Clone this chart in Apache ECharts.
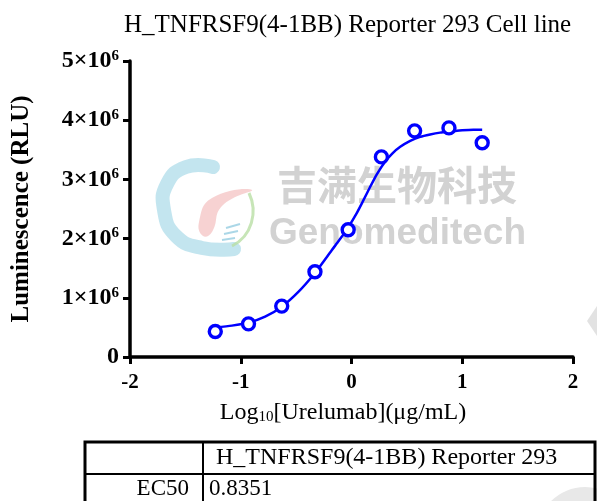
<!DOCTYPE html>
<html>
<head>
<meta charset="utf-8">
<script src="https://cdn.jsdelivr.net/npm/echarts@6/dist/echarts.min.js"></script>
<style>
  html, body { margin: 0; padding: 0; background: #fff; }
  #chart { width: 597px; height: 501px; }
</style>
</head>
<body>
<div id="chart"></div>
<script>
// measured points (log10 dose, RLU in millions)
const doseLog = [-1.23, -0.93, -0.63, -0.33, -0.03, 0.27, 0.57, 0.88, 1.18];
const rlu = [0.43, 0.56, 0.86, 1.44, 2.15, 3.38, 3.82, 3.87, 3.62];

// fitted curve
const fitX = [-1.23, -1.08, -0.93, -0.78, -0.63, -0.48, -0.33, -0.18, -0.10, -0.03, 0.05, 0.10, 0.17, 0.23, 0.30, 0.37, 0.44, 0.53, 0.62, 0.71, 0.80, 0.90, 1.00, 1.10, 1.18];
const fitY = [0.50, 0.53, 0.58, 0.68, 0.85, 1.10, 1.42, 1.80, 2.00, 2.19, 2.44, 2.62, 2.88, 3.09, 3.29, 3.44, 3.55, 3.65, 3.72, 3.76, 3.79, 3.81, 3.83, 3.84, 3.84];

const xTicks = ['-2', '-1', '0', '1', '2'];
const yTicks = ['0', '1', '2', '3', '4', '5'];

const tableHead = 'H_TNFRSF9(4-1BB) Reporter 293';
const tableRow = ['EC50', '0.8351'];

const serif = 'Liberation Serif';
const blue = '#0000ff';
const logoBlue = 'rgba(170,218,232,0.7)';

const chart = echarts.init(document.getElementById('chart'));

chart.setOption({
  animation: false,
  title: {
    text: 'H_TNFRSF9(4-1BB) Reporter 293 Cell line',
    left: 119, top: 8,
    textStyle: { fontFamily: serif, fontWeight: 'normal', fontSize: 25, color: '#000' }
  },
  grid: { left: 130, right: 24, top: 61, bottom: 144 },
  xAxis: {
    type: 'value', min: -2, max: 2, interval: 1,
    axisLine: { onZero: false, lineStyle: { color: '#000', width: 3.5 } },
    axisTick: { length: 7, lineStyle: { width: 3, color: '#000' } },
    axisLabel: {
      margin: 15,
      formatter: v => xTicks[Math.round(v) + 2],
      fontFamily: serif, fontWeight: 'bold', fontSize: 21, color: '#000'
    },
    splitLine: { show: false }
  },
  yAxis: {
    type: 'value', min: 0, max: 5, interval: 1,
    axisLine: { show: true, onZero: false, lineStyle: { color: '#000', width: 3.5 } },
    axisTick: { show: true, length: 7, lineStyle: { width: 3, color: '#000' } },
    axisLabel: {
      margin: 11,
      formatter: v => {
        const t = yTicks[Math.round(v)];
        return t === '0' ? '{b|0}' : '{b|' + t + '×10}{s|6}';
      },
      rich: {
        b: { fontFamily: serif, fontWeight: 'bold', fontSize: 24, color: '#000', lineHeight: 25 },
        s: { fontFamily: serif, fontWeight: 'bold', fontSize: 15, color: '#000', verticalAlign: 'top', lineHeight: 15 }
      }
    },
    splitLine: { show: false }
  },
  graphic: [
    // watermark logo
    { type: 'polyline', z: 0, shape: { points: [[213, 167], [186, 167], [167, 184], [164, 210], [176, 236], [202, 248], [234, 249]], smooth: 0.5 },
      style: { fill: null, stroke: logoBlue, lineWidth: 14, lineCap: 'round' } },
    { type: 'polygon', z: 0, shape: { points: [[199, 222], [212, 198], [252, 190], [222, 206], [212, 232], [203, 236]], smooth: 0.5 },
      style: { fill: 'rgba(240,165,165,0.5)' } },
    { type: 'bezierCurve', z: 0, shape: { x1: 249, y1: 193, cpx1: 258, cpy1: 212, cpx2: 252, cpy2: 236, x2: 232, y2: 246 },
      style: { fill: null, stroke: 'rgba(185,222,165,0.8)', lineWidth: 3 } },
    { type: 'line', z: 0, shape: { x1: 226, y1: 228, x2: 240, y2: 224 }, style: { stroke: 'rgba(150,205,225,0.8)', lineWidth: 2 } },
    { type: 'line', z: 0, shape: { x1: 224, y1: 234, x2: 238, y2: 231 }, style: { stroke: 'rgba(150,205,225,0.8)', lineWidth: 2 } },
    { type: 'line', z: 0, shape: { x1: 222, y1: 240, x2: 235, y2: 238 }, style: { stroke: 'rgba(150,205,225,0.8)', lineWidth: 2 } },
    { type: 'text', z: 0, left: 277, top: 165,
      style: { text: '吉满生物科技', fontFamily: 'Noto Sans CJK SC', fontWeight: 'bold', fontSize: 40, fill: '#d2d2d2' } },
    { type: 'text', z: 0, left: 269, top: 215,
      style: { text: 'Genomeditech', fontFamily: 'Liberation Sans', fontWeight: 'bold', fontSize: 37, fill: '#d2d2d2' } },
    { type: 'polygon', z: 0, shape: { points: [[597, 306], [587, 321], [597, 336]] }, style: { fill: '#e2e2e2' } },
    { type: 'circle', z: 0, shape: { cx: 585, cy: 535, r: 48 }, style: { fill: '#e8e8e8' } },

    // y axis name
    { type: 'text', x: 22, y: 209, rotation: Math.PI / 2,
      style: { text: 'Luminescence (RLU)', fontFamily: serif, fontWeight: 'bold', fontSize: 25, fill: '#000',
        align: 'center', verticalAlign: 'middle' } },
    // x axis name
    { type: 'text', x: 343, y: 413,
      style: { text: '{n|Log}{u|10}{n|[Urelumab](μg/mL)}', align: 'center', verticalAlign: 'middle',
        rich: {
          n: { fontFamily: serif, fontSize: 24, fill: '#000', lineHeight: 24 },
          u: { fontFamily: serif, fontSize: 15, fill: '#000', verticalAlign: 'bottom', lineHeight: 15 }
        } } },

    // table
    { type: 'rect', z: 5, shape: { x: 85, y: 442, width: 510, height: 80 },
      style: { fill: null, stroke: '#000', lineWidth: 3 } },
    { type: 'line', z: 5, shape: { x1: 85, y1: 474, x2: 595, y2: 474 }, style: { stroke: '#000', lineWidth: 2 } },
    { type: 'line', z: 5, shape: { x1: 203, y1: 442, x2: 203, y2: 501 }, style: { stroke: '#000', lineWidth: 2 } },
    { type: 'text', z: 5, x: 216, y: 458,
      style: { text: tableHead, fontFamily: serif, fontSize: 24, fill: '#000', verticalAlign: 'middle' } },
    { type: 'text', z: 5, x: 189, y: 489,
      style: { text: tableRow[0], fontFamily: serif, fontSize: 23, fill: '#000', align: 'right', verticalAlign: 'middle' } },
    { type: 'text', z: 5, x: 209, y: 489,
      style: { text: tableRow[1], fontFamily: serif, fontSize: 23, fill: '#000', verticalAlign: 'middle' } }
  ],
  series: [
    {
      type: 'line', z: 3,
      data: fitX.map((x, i) => [x, fitY[i]]),
      showSymbol: false, smooth: 0.2,
      lineStyle: { color: blue, width: 2.5 }
    },
    {
      type: 'scatter', z: 4,
      data: doseLog.map((x, i) => [x, rlu[i]]),
      symbol: 'circle', symbolSize: 12,
      itemStyle: { color: '#fff', borderColor: blue, borderWidth: 3.4, opacity: 1 }
    }
  ]
});
</script>
</body>
</html>
